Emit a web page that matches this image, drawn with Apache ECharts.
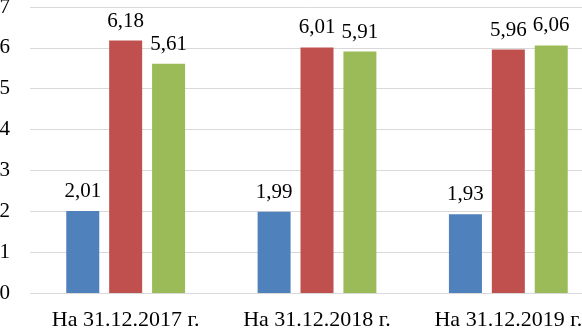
<!DOCTYPE html>
<html>
<head>
<meta charset="utf-8">
<script src="https://cdn.jsdelivr.net/npm/echarts@6/dist/echarts.min.js"></script>
<style>
  html, body { margin: 0; padding: 0; background: #fff; }
  #chart { width: 582px; height: 328px; }
</style>
</head>
<body>
<div id="chart"></div>
<script>
var categories = ['На 31.12.2017 г.', 'На 31.12.2018 г.', 'На 31.12.2019 г.'];
var seriesBlue = [2.01, 1.99, 1.93];
var seriesRed = [6.18, 6.01, 5.96];
var seriesGreen = [5.61, 5.91, 6.06];
var colors = ['#4F81BD', '#C0504D', '#9BBB59'];

var chart = echarts.init(document.getElementById('chart'));
var font = '"Liberation Serif", "Times New Roman", serif';

function makeSeries(name, data, color) {
    return {
        name: name,
        type: 'bar',
        data: data,
        barWidth: 33,
        barGap: '30%',
        itemStyle: { color: color },
        label: {
            show: true,
            position: 'top',
            distance: 9,
            color: '#000',
            fontFamily: font,
            fontSize: 21,
            formatter: function (p) {
                return p.value.toFixed(2).replace('.', ',');
            }
        }
    };
}

var option = {
    animation: false,
    grid: { left: 30, width: 574, top: 7, height: 286, outerBoundsMode: 'none', containLabel: false },
    xAxis: {
        type: 'category',
        data: categories,
        axisLine: { show: false },
        axisTick: { show: false },
        axisLabel: { color: '#000', fontFamily: font, fontSize: 22, margin: 16, interval: 0, hideOverlap: false }
    },
    yAxis: {
        type: 'value',
        min: 0,
        max: 7,
        interval: 1,
        axisLine: { show: false },
        axisTick: { show: false },
        axisLabel: { color: '#000', fontFamily: font, fontSize: 21, margin: 20 },
        splitLine: { lineStyle: { color: '#D9D9D9', width: 1 } }
    },
    series: [
        makeSeries('s1', seriesBlue, colors[0]),
        makeSeries('s2', seriesRed, colors[1]),
        makeSeries('s3', seriesGreen, colors[2])
    ]
};
chart.setOption(option);
</script>
</body>
</html>
